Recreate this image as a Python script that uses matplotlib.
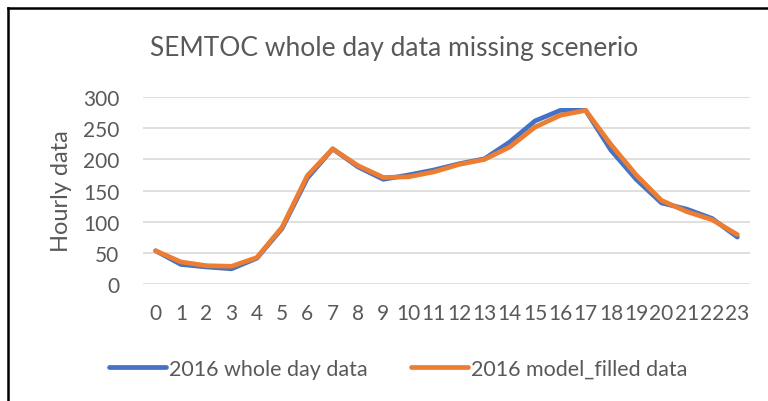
import matplotlib
matplotlib.use("Agg")
import matplotlib.pyplot as plt
from matplotlib.lines import Line2D

hours = list(range(24))
whole_day = [53, 31, 27, 24, 41, 89, 170, 217, 188, 168, 175, 183, 193, 201, 228, 262, 279, 279, 215, 168, 130, 120, 105, 75]
model_filled = [53, 35, 29, 28, 42, 91, 174, 217, 190, 171, 172, 180, 192, 200, 220, 252, 271, 279, 224, 175, 134, 116, 103, 79]
yticks = [0, 50, 100, 150, 200, 250, 300]

title = "SEMTOC whole day data missing scenerio"
ylabel = "Hourly data"
labels = ["2016 whole day data", "2016 model_filled data"]

plt.rcParams['font.family'] = ['Lato', 'DejaVu Sans']
txt = '#595959'
blue = '#4472C4'
orange = '#ED7D31'

fig = plt.figure(figsize=(7.68, 4.02), dpi=100)
ax = fig.add_axes([143/768, 1-284.7/402, (750-143)/768, (284.7-98.3)/402])

ax.plot(hours, whole_day, color=blue, lw=3.4, solid_capstyle='round', solid_joinstyle='round', zorder=3)
ax.plot(hours, model_filled, color=orange, lw=3.4, solid_capstyle='round', solid_joinstyle='round', zorder=4)

ax.set_xlim(-0.5, 23.5)
ax.set_ylim(0, 300)
ax.set_yticks(yticks)
ax.set_xticks(hours)
ax.set_xticklabels([str(h) for h in hours])
ax.grid(axis='y', color='#D9D9D9', lw=1.2)
ax.set_axisbelow(True)
for s in ax.spines.values():
    s.set_visible(False)
ax.tick_params(length=0, labelsize=15, colors=txt)
ax.tick_params(axis='y', pad=17)
ax.tick_params(axis='x', pad=14)

fig.text(394/768, 1-49/402, title, ha='center', va='center', fontsize=19, color=txt)
fig.text(62/768, 1-191/402, ylabel, ha='center', va='center', rotation=90, fontsize=17, color=txt)

handles = [Line2D([0], [0], color=blue, lw=3.4, solid_capstyle='round'),
           Line2D([0], [0], color=orange, lw=3.4, solid_capstyle='round')]
leg = fig.legend(handles, labels, loc='center', bbox_to_anchor=(398/768, 1-370/402), ncol=2,
                 frameon=False, fontsize=15.5, handlelength=2.65, handletextpad=0.14, columnspacing=2.0)
for t in leg.get_texts():
    t.set_color(txt)

# chart border (only top and left visible)
fig.add_artist(Line2D([8/768, 8/768], [0, 1-9/402], transform=fig.transFigure, color='black', lw=1.8))
fig.add_artist(Line2D([8/768, 1], [1-9/402, 1-9/402], transform=fig.transFigure, color='black', lw=1.8))

fig.savefig('out.png', dpi=100)
